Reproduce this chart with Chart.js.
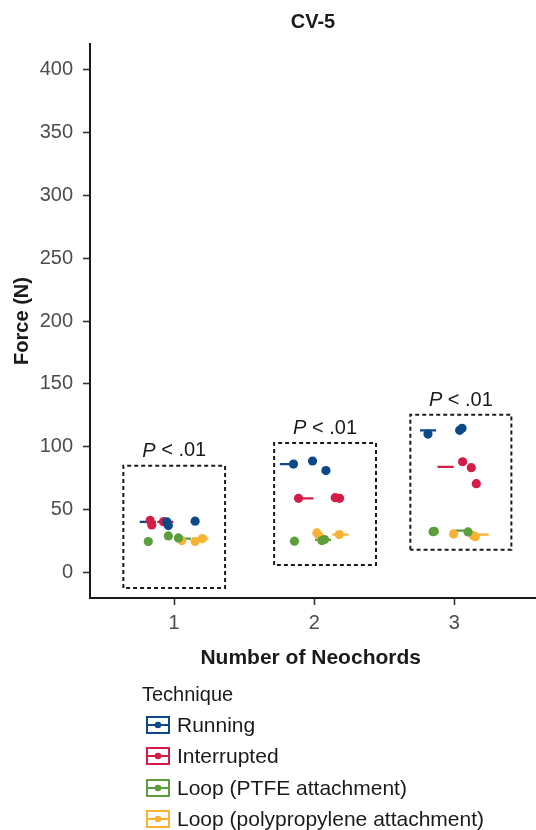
<!DOCTYPE html>
<html>
<head>
<meta charset="utf-8">
<script src="https://cdn.jsdelivr.net/npm/chart.js@4/dist/chart.umd.min.js"></script>
<style>
  html, body { margin: 0; padding: 0; background: #fff; }
  #wrap { position: relative; width: 536px; height: 830px; overflow: hidden; font-family: "Liberation Sans", Arial, Helvetica, sans-serif; }
  #c { position: absolute; left: 0; top: 0; }
  #legend { position: absolute; left: 0; top: 0; width: 536px; height: 830px; pointer-events: none; }
  .lt { position: absolute; left: 142px; top: 680px; font-size: 20px; color: #1a1a1a; line-height: 28px; }
  .li { position: absolute; left: 146px; height: 28px; display: flex; align-items: center; font-size: 21px; color: #1a1a1a; }
  .li svg { margin-right: 7px; }
</style>
</head>
<body>
<div id="wrap">
  <canvas id="c" width="536" height="830"></canvas>
  <div id="legend"></div>
</div>
<script>
// ---- data ----
const chartTitle = "CV-5";
const xTitle = "Number of Neochords";
const yTitle = "Force (N)";
const legendTitle = "Technique";
const categories = [1, 2, 3];
const yTicks = [0, 50, 100, 150, 200, 250, 300, 350, 400];
const techniques = ["Running", "Interrupted", "Loop (PTFE attachment)", "Loop (polypropylene attachment)"];
const colors = ["#0b4a87", "#d31c46", "#5b9e3b", "#f8b234"];

// individual measurements (x = jittered category position, y = force)
const runningX = [0.948, 0.959, 1.150, 1.852, 1.988, 2.084, 2.812, 3.038, 3.055];
const runningY = [40.5, 37.5, 41.0, 86.4, 88.8, 81.2, 110.2, 113.2, 114.8];
const interruptedX = [0.829, 0.841, 0.924, 1.888, 2.150, 2.181, 3.059, 3.121, 3.157];
const interruptedY = [41.6, 38.0, 40.6, 59.2, 59.7, 59.2, 88.2, 83.5, 70.8];
const ptfeX = [0.816, 0.959, 1.031, 1.859, 2.055, 2.074, 2.848, 2.857, 3.098];
const ptfeY = [24.8, 29.3, 27.7, 25.1, 25.6, 26.4, 32.7, 33.0, 32.5];
const ppX = [1.055, 1.150, 1.202, 2.019, 2.038, 2.179, 2.995, 3.134, 3.150];
const ppY = [25.6, 24.8, 27.2, 31.7, 29.0, 30.4, 30.9, 29.6, 28.7];

// summary (mean) level per category
const runningMean = [40.4, 86.4, 113.2];
const interruptedMean = [40.4, 59.2, 84.2];
const ptfeMean = [27.2, 26.2, 33.5];
const ppMean = [27.2, 30.4, 30.4];

// dashed comparison boxes and p-value labels
const boxLeft = [0.638, 1.714, 2.686];
const boxRight = [1.364, 2.441, 3.407];
const boxLow = [-12.0, 6.3, 18.3];
const boxHigh = [85.0, 103.2, 125.6];
const pLabelY = [96.8, 115.0, 137.2];
const pLabelText = ["< .01", "< .01", "< .01"];

// ---- build datasets ----
const pointX = [runningX, interruptedX, ptfeX, ppX];
const pointY = [runningY, interruptedY, ptfeY, ppY];
const means = [runningMean, interruptedMean, ptfeMean, ppMean];
const dodgeStart = [-0.25, -0.125, 0, 0.125];
const dodgeW = 0.125;

const datasets = [];
techniques.forEach((t, i) => {
  datasets.push({
    label: t,
    data: pointX[i].map((x, k) => ({ x: x, y: pointY[i][k] })),
    backgroundColor: colors[i],
    borderWidth: 0,
    pointRadius: 4.6,
    showLine: false,
    order: 1
  });
});
techniques.forEach((t, i) => {
  const d = [];
  categories.forEach((c, g) => {
    d.push({ x: c + dodgeStart[i] + 0.005, y: means[i][g] });
    d.push({ x: c + dodgeStart[i] + dodgeW - 0.005, y: means[i][g] });
    d.push({ x: c + dodgeStart[i] + dodgeW, y: null });
  });
  datasets.push({
    label: t + " mean",
    data: d,
    showLine: true,
    spanGaps: false,
    borderColor: colors[i],
    borderWidth: 2.2,
    pointRadius: 0,
    order: 2
  });
});
const boxData = [];
categories.forEach((c, g) => {
  boxData.push({ x: boxLeft[g], y: boxLow[g] });
  boxData.push({ x: boxLeft[g], y: boxHigh[g] });
  boxData.push({ x: boxRight[g], y: boxHigh[g] });
  boxData.push({ x: boxRight[g], y: boxLow[g] });
  boxData.push({ x: boxLeft[g], y: boxLow[g] });
  boxData.push({ x: boxLeft[g], y: null });
});
datasets.push({
  label: "box",
  data: boxData,
  showLine: true,
  spanGaps: false,
  borderColor: "#1a1a1a",
  borderWidth: 2,
  borderDash: [4, 3],
  pointRadius: 0,
  order: 3
});

const FONT = '"Liberation Sans", Arial, Helvetica, sans-serif';

const extras = {
  id: "extras",
  afterDraw(chart) {
    const { ctx, scales: { x, y }, chartArea } = chart;
    ctx.save();
    // continue the x axis line to the right edge of the figure
    ctx.strokeStyle = "#1a1a1a";
    ctx.lineWidth = 2;
    ctx.beginPath();
    ctx.moveTo(chartArea.right - 1, x.top);
    ctx.lineTo(chart.width, x.top);
    ctx.stroke();
    // p-value labels
    ctx.fillStyle = "#1a1a1a";
    ctx.textBaseline = "middle";
    categories.forEach((c, g) => {
      const cx = x.getPixelForValue((boxLeft[g] + boxRight[g]) / 2);
      const cy = y.getPixelForValue(pLabelY[g]);
      ctx.font = 'italic 20px ' + FONT;
      const w1 = ctx.measureText("P").width;
      ctx.font = '20px ' + FONT;
      const rest = " " + pLabelText[g];
      const w2 = ctx.measureText(rest).width;
      const sx = cx - (w1 + w2) / 2;
      ctx.textAlign = "left";
      ctx.font = 'italic 20px ' + FONT;
      ctx.fillText("P", sx, cy);
      ctx.font = '20px ' + FONT;
      ctx.fillText(rest, sx + w1, cy);
    });
    // plot title centred on the plotting panel
    ctx.font = 'bold 20px ' + FONT;
    ctx.textAlign = "center";
    ctx.fillText(chartTitle, (chartArea.left + chart.width) / 2, 22);
    ctx.restore();
  }
};

new Chart(document.getElementById("c"), {
  type: "scatter",
  data: { datasets: datasets },
  plugins: [extras],
  options: {
    responsive: false,
    animation: false,
    layout: { padding: { left: 0, right: 0, top: 44, bottom: 156 } },
    plugins: {
      legend: { display: false },
      tooltip: { enabled: false },
      title: { display: false }
    },
    scales: {
      x: {
        type: "linear",
        min: 0.4,
        max: 3.55,
        afterBuildTicks: (s) => { s.ticks = categories.map(v => ({ value: v })); },
        afterFit: (s) => { s.height = 76; },
        ticks: { color: "#4d4d4d", font: { family: FONT, size: 20 }, padding: 6, callback: (v) => String(v) },
        grid: { drawOnChartArea: false, drawTicks: true, tickLength: 7, tickColor: "#333", tickWidth: 1.6 },
        border: { display: true, color: "#1a1a1a", width: 2 },
        title: { display: true, text: xTitle, color: "#1a1a1a", font: { family: FONT, size: 21, weight: "bold" }, padding: { top: 0, bottom: 3 } }
      },
      y: {
        type: "linear",
        min: -20,
        max: 420,
        afterBuildTicks: (s) => { s.ticks = yTicks.map(v => ({ value: v })); },
        afterFit: (s) => { s.width = 90; },
        ticks: { color: "#4d4d4d", font: { family: FONT, size: 20 }, padding: 10 },
        grid: { drawOnChartArea: false, drawTicks: true, tickLength: 7, tickColor: "#333", tickWidth: 1.6 },
        border: { display: true, color: "#1a1a1a", width: 2 },
        title: { display: true, text: yTitle, color: "#1a1a1a", font: { family: FONT, size: 20, weight: "bold" }, padding: { top: 10, bottom: 0 } }
      }
    }
  }
});

// ---- legend (HTML) ----
const leg = document.getElementById("legend");
const lt = document.createElement("div");
lt.className = "lt";
lt.textContent = legendTitle;
leg.appendChild(lt);
const rowTop = [711, 742, 774, 805];
techniques.forEach((t, i) => {
  const row = document.createElement("div");
  row.className = "li";
  row.style.top = rowTop[i] + "px";
  row.innerHTML =
    '<svg width="24" height="18" viewBox="0 0 24 18">' +
    '<rect x="1" y="1" width="22" height="16" fill="#fff" stroke="' + colors[i] + '" stroke-width="2"/>' +
    '<line x1="2" y1="9" x2="22" y2="9" stroke="' + colors[i] + '" stroke-width="2"/>' +
    '<circle cx="12" cy="9" r="3.3" fill="' + colors[i] + '"/>' +
    '</svg><span>' + t + '</span>';
  leg.appendChild(row);
});
</script>
</body>
</html>
